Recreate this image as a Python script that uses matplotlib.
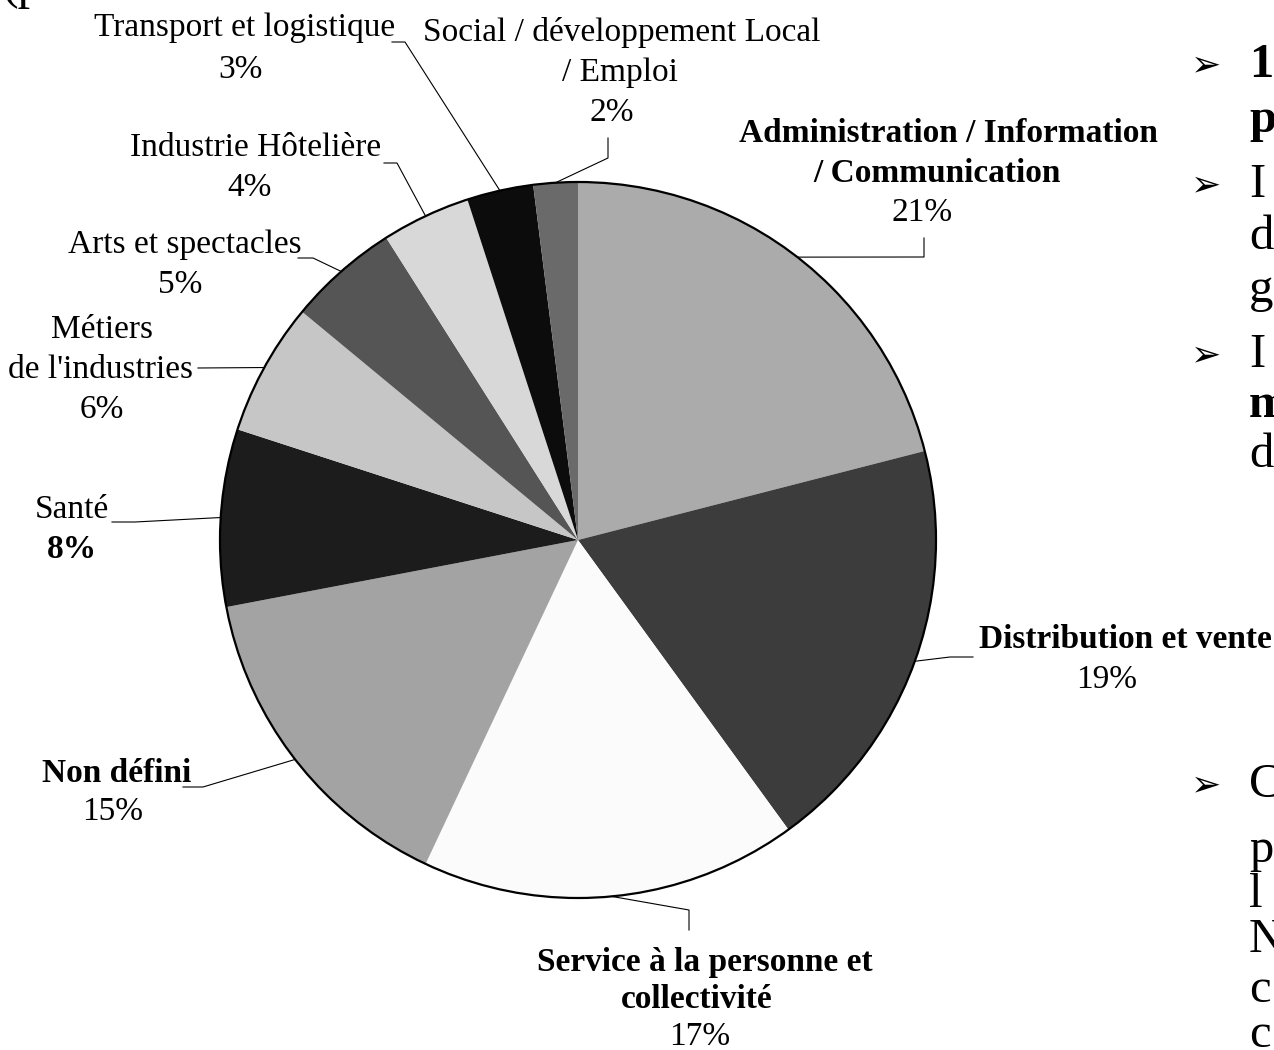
import numpy as np
import matplotlib.pyplot as plt
from matplotlib.patches import Circle

# =========================
# data
# =========================
categories = [
    "Administration / Information / Communication",
    "Distribution et vente",
    "Service à la personne et collectivité",
    "Non défini",
    "Santé",
    "Métiers de l'industries",
    "Arts et spectacles",
    "Industrie Hôtelière",
    "Transport et logistique",
    "Social / développement Local / Emploi",
]
shares = [21, 19, 17, 15, 8, 6, 5, 4, 3, 2]
grays = ["#ababab", "#3c3c3c", "#fbfbfb", "#a3a3a3", "#1c1c1c",
         "#c6c6c6", "#555555", "#d8d8d8", "#0c0c0c", "#6a6a6a"]

# label lines per slice (the percentage is added after them)
label_lines = [
    ["Administration / Information", "/ Communication"],
    ["Distribution et vente"],
    ["Service à la personne et", "collectivité"],
    ["Non défini"],
    ["Santé"],
    ["Métiers", "de l'industries"],
    ["Arts et spectacles"],
    ["Industrie Hôtelière"],
    ["Transport et logistique"],
    ["Social / développement Local", "/ Emploi"],
]
name_bold = [True, True, True, True, False, False, False, False, False, False]
pct_bold = [False, False, False, False, True, False, False, False, False, False]

# cropped text of the page on the right
side_chars = ["1", "p", "I", "d", "g", "I", "m", "d", "C", "p", "l", "N", "c", "c"]
side_bold = [True, True, False, False, False, False, True, False,
             False, False, False, False, False, False]
side_bullet = [True, False, True, False, False, True, False, False,
               True, False, False, False, False, False]

# =========================
# layout (pixel coords, origin top-left)
# =========================
W, H = 1274, 1050
center = (578, 540)
radius = 358

# (x, y) of each label line, percentage last
label_pos = [
    [(948, 133), (937, 173), (922, 213)],
    [(1125, 640), (1107, 680)],
    [(705, 962), (697, 1000), (700, 1037)],
    [(117, 773), (113, 812)],
    [(72, 510), (72, 550)],
    [(102, 330), (100, 370), (102, 410)],
    [(185, 245), (180, 285)],
    [(256, 148), (250, 188)],
    [(245, 28), (240, 70)],
    [(622, 33), (620, 73), (612, 113)],
]
# elbow points of the leader lines, from pie side to label side
leader_pts = [
    [(924, 257), (924, 238)],
    [(950, 657), (973, 657)],
    [(689, 910), (689, 930)],
    [(203, 787), (183, 787)],
    [(135, 522), (112, 522)],
    [(198, 368)],
    [(313, 258), (298, 258)],
    [(397, 163), (384, 163)],
    [(405, 42), (392, 42)],
    [(608, 158), (608, 138)],
]
side_y = [65, 120, 185, 237, 290, 355, 405, 455, 785, 850, 895, 940, 990, 1035]

plt.rcParams['font.family'] = ['Liberation Serif', 'DejaVu Sans']

fig = plt.figure(figsize=(W / 100, H / 100), dpi=100)
ax = fig.add_axes([0, 0, 1, 1])
ax.axis('off')


def Y(py):
    return H - py


wedges, _ = ax.pie(shares, colors=grays, startangle=90, counterclock=False,
                   center=(center[0], Y(center[1])), radius=radius,
                   wedgeprops=dict(linewidth=0))
ax.set_xlim(0, W)
ax.set_ylim(0, H)
ax.set_aspect('equal')
ax.add_patch(Circle((center[0], Y(center[1])), radius, fill=False,
                    edgecolor='black', linewidth=1.6))

fs = 24
for i, w in enumerate(wedges):
    mid = np.deg2rad((w.theta1 + w.theta2) / 2)
    ax_x = center[0] + radius * np.cos(mid)
    ax_y = Y(center[1]) + radius * np.sin(mid)
    xs = [ax_x] + [p[0] for p in leader_pts[i]]
    ys = [ax_y] + [Y(p[1]) for p in leader_pts[i]]
    ax.plot(xs, ys, color='black', linewidth=0.8)

    texts = label_lines[i] + [f"{shares[i]}%"]
    for j, t in enumerate(texts):
        is_pct = j == len(texts) - 1
        bold = pct_bold[i] if is_pct else name_bold[i]
        x, y = label_pos[i][j]
        ax.text(x, Y(y), t, ha='center', va='center', fontsize=fs,
                fontweight='bold' if bold else 'normal', color='black')

# page text cut off on the right
for ch, y, b, bul in zip(side_chars, side_y, side_bold, side_bullet):
    ax.text(1249, Y(y), ch, ha='left', va='center', fontsize=35,
            fontweight='bold' if b else 'normal', clip_on=False)
    if bul:
        ax.text(1206, Y(y), "\u27a2", ha='center', va='center', fontsize=26,
                family=['DejaVu Sans'])

# fragment at the top-left corner
ax.text(2, Y(-14), "(p", ha='left', va='center', fontsize=36)

fig.savefig("out.png", dpi=100)
